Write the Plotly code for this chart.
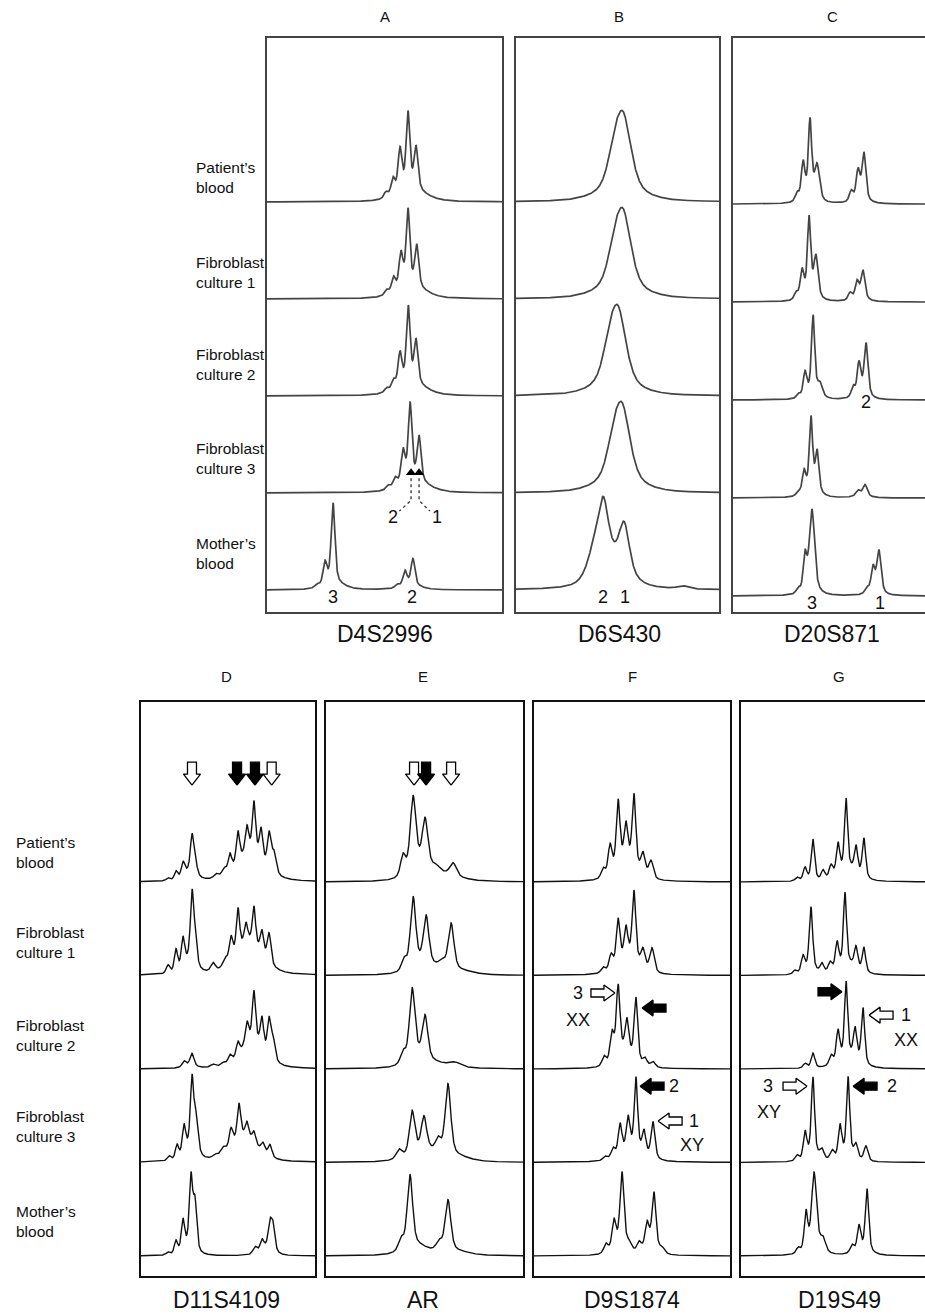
import numpy as np
import plotly.graph_objects as go

FIG_W, FIG_H = 925, 1316

# ---------------- data ----------------
ROW_LABELS = ["Patient’s<br>blood", "Fibroblast<br>culture 1", "Fibroblast<br>culture 2",
              "Fibroblast<br>culture 3", "Mother’s<br>blood"]
PANELS = ["A", "B", "C", "D", "E", "F", "G"]
MARKERS = ["D4S2996", "D6S430", "D20S871", "D11S4109", "AR", "D9S1874", "D19S49"]

# peaks per lane: (position on 0-100 migration scale, height in % of lane, half width)
A_PEAKS = [
    [(50.6, 6, 1.0), (53.6, 17, 1.0), (56.6, 44, 1.0), (60.0, 78, 0.95), (63.4, 43, 1.0), (61.5, 13, 7)],
    [(50.9, 5, 1.0), (53.8, 15, 1.0), (57.0, 36, 1.0), (60.0, 78, 0.95), (63.7, 42, 1.0), (61.5, 13, 7)],
    [(50.9, 4, 1.0), (53.8, 9, 1.0), (56.6, 34, 1.0), (60.1, 78, 0.95), (63.4, 44, 1.0), (61.5, 13, 7)],
    [(51.5, 4, 1.0), (54.5, 9, 1.0), (57.9, 33, 1.0), (60.9, 78, 0.95), (64.7, 45, 1.0), (62.5, 13, 7)],
    [(21.3, 3, 1.0), (24.7, 23, 1.0), (28.1, 82, 0.95), (28.5, 7, 5),
     (55.3, 3, 1.0), (58.7, 15, 1.0), (62.1, 27, 1.0), (61.0, 5, 5)],
]
B_PEAKS = [
    [(53.0, 68, 4.5), (48.5, 30, 4), (51.0, 12, 12)],
    [(53.0, 68, 4.5), (48.5, 30, 4), (51.0, 12, 12)],
    [(50.5, 68, 4.5), (46.0, 30, 4), (48.5, 12, 12)],
    [(52.5, 68, 4.5), (48.0, 30, 4), (50.5, 12, 12)],
    [(43.0, 60, 3), (53.3, 48, 3), (38.5, 25, 4), (47.0, 28, 9), (82.0, 3, 3)],
]
C_PEAKS = [
    [(33.3, 8, 1.1), (36.5, 36, 1.1), (40.1, 75, 1.0), (43.8, 34, 1.5), (40.0, 10, 4),
     (61.5, 10, 1.1), (65.1, 28, 1.1), (68.2, 47, 1.2), (66.0, 6, 4)],
    [(32.8, 7, 1.1), (35.9, 27, 1.1), (39.6, 76, 1.0), (43.2, 40, 1.3), (40.0, 10, 4),
     (60.9, 7, 1.1), (64.6, 16, 1.1), (67.7, 28, 1.2), (65.5, 5, 4)],
    [(34.0, 4, 1.1), (37.5, 24, 1.1), (41.7, 78, 1.0), (45.3, 12, 1.5), (41.5, 8, 4),
     (62.5, 10, 1.1), (65.6, 32, 1.1), (69.3, 53, 1.2), (67.0, 6, 4)],
    [(33.9, 4, 1.1), (37.0, 22, 1.1), (40.6, 72, 1.0), (43.8, 40, 1.1), (41.0, 10, 4),
     (65.1, 5, 1.2), (68.8, 11, 1.3), (67.0, 3, 4)],
    [(33.9, 5, 1.1), (37.5, 36, 1.1), (41.1, 82, 1.6), (41.0, 6, 4),
     (69.8, 5, 1.2), (72.9, 24, 1.1), (76.0, 42, 1.3), (74.0, 5, 4)],
]
D_PEAKS = [
    [(15.5, 3, 1.2), (20.1, 9, 1.15), (24.1, 15, 1.15), (29.3, 36, 1.1), (31.0, 15, 1.3), (28.0, 10, 4),
     (43.1, 4.5, 1.5), (47.7, 7, 1.5), (51.1, 18, 1.2), (55.7, 33, 1.15), (60.9, 27, 1.15),
     (64.9, 53, 1.1), (69.0, 32, 1.15), (73.6, 37, 1.2), (76.4, 22, 1.5), (63.0, 32, 9)],
    [(15.5, 9, 1.2), (20.1, 24, 1.15), (24.1, 31, 1.15), (29.3, 68, 1.1), (31.0, 27, 1.3), (28.0, 14, 4),
     (41.4, 9, 1.5), (48.3, 8, 1.5), (51.7, 25, 1.2), (55.7, 46, 1.15), (60.3, 20, 1.15),
     (64.9, 40, 1.1), (69.5, 25, 1.2), (73.6, 32, 1.3), (62.0, 35, 9)],
    [(24.7, 6, 1.2), (29.3, 13, 1.3), (28.0, 3, 4), (41.4, 3, 1.5), (47.1, 3, 1.5),
     (51.1, 8, 1.2), (55.7, 14, 1.15), (60.9, 22, 1.15), (64.9, 52, 1.1), (69.5, 32, 1.15),
     (73.6, 38, 1.2), (75.9, 22, 1.4), (64.0, 30, 8)],
    [(16.1, 5, 1.2), (20.7, 15, 1.15), (24.7, 30, 1.15), (29.3, 71, 1.1), (31.6, 36, 1.4), (28.5, 14, 4),
     (42.5, 3, 1.5), (47.1, 6, 1.5), (51.7, 18, 1.2), (56.3, 36, 1.15), (60.9, 15, 1.15),
     (64.9, 12, 1.2), (70.1, 10, 1.3), (74.1, 13, 1.3), (59.0, 28, 9)],
    [(15.5, 3, 1.2), (20.1, 14, 1.15), (24.1, 33, 1.15), (28.7, 72, 1.1), (31.0, 50, 1.2), (28.0, 10, 3.5),
     (65.5, 8, 1.5), (69.5, 12, 1.3), (74.1, 26, 1.2), (75.9, 25, 1.2), (73.0, 8, 4)],
]
E_PEAKS = [
    [(48.0, 14, 6), (39.1, 22, 1.5), (44.2, 78, 1.7), (50.3, 50, 1.7), (56.0, 6, 2.5), (64.5, 14, 2.0), (60.0, 6, 10)],
    [(50.0, 12, 7), (39.6, 12, 1.5), (44.2, 75, 1.6), (50.8, 50, 1.6), (58.9, 8, 2.0), (63.5, 50, 1.7), (68.0, 4, 8)],
    [(47.0, 12, 6), (39.1, 12, 1.5), (43.7, 75, 1.6), (50.3, 44, 1.6), (65.5, 4, 3), (58.0, 4, 10)],
    [(50.0, 12, 8), (37.1, 10, 1.8), (43.7, 46, 1.6), (49.7, 35, 1.6), (56.9, 14, 1.6), (61.9, 76, 1.7), (66.0, 5, 8)],
    [(46.0, 10, 7), (38.1, 12, 1.6), (42.6, 78, 1.6), (57.4, 10, 1.8), (61.9, 55, 1.7), (66.0, 4, 8)],
]
F_PEAKS = [
    [(35.2, 10, 1.2), (38.8, 31, 1.2), (42.9, 70, 1.1), (46.9, 38, 1.1), (51.0, 76, 1.1),
     (55.6, 23, 1.3), (59.7, 19, 1.4), (47.0, 22, 6)],
    [(35.2, 6, 1.2), (39.3, 16, 1.2), (42.9, 48, 1.1), (46.9, 32, 1.1), (51.0, 74, 1.1),
     (55.6, 20, 1.3), (60.2, 26, 1.4), (48.0, 18, 6)],
    [(35.7, 10, 1.2), (39.8, 30, 1.2), (42.9, 74, 1.1), (47.4, 34, 1.1), (52.0, 68, 1.1),
     (56.6, 8, 1.3), (60.7, 6, 1.4), (46.0, 18, 5)],
    [(36.2, 4, 1.2), (40.3, 10, 1.2), (43.9, 32, 1.1), (48.0, 34, 1.1), (52.0, 76, 1.0),
     (56.1, 24, 1.1), (60.7, 39, 1.2), (50.0, 14, 7)],
    [(36.7, 10, 1.3), (40.8, 30, 1.2), (44.9, 78, 1.2), (48.5, 8, 1.5), (44.0, 10, 4),
     (53.6, 10, 1.3), (57.7, 26, 1.2), (61.2, 60, 1.2), (65.3, 6, 1.5), (59.0, 8, 4)],
]
G_PEAKS = [
    [(30.4, 4, 1.2), (34.8, 14, 1.2), (39.1, 44, 1.1), (44.6, 10, 1.2), (48.9, 13, 1.2), (52.7, 32, 1.1),
     (57.1, 74, 1.0), (62.5, 28, 1.1), (66.8, 42, 1.1), (58.0, 14, 6)],
    [(29.3, 4, 1.2), (33.7, 18, 1.2), (38.0, 66, 1.1), (38.0, 6, 3), (44.0, 10, 1.2), (48.4, 10, 1.2),
     (52.2, 28, 1.1), (56.5, 76, 1.0), (62.5, 22, 1.1), (66.8, 26, 1.1), (58.0, 12, 6)],
    [(34.8, 5, 1.2), (39.1, 16, 1.2), (48.9, 10, 1.2), (52.7, 32, 1.1), (57.1, 78, 1.0),
     (62.0, 32, 1.1), (66.3, 60, 1.1), (58.0, 14, 6)],
    [(30.4, 6, 1.2), (34.8, 28, 1.1), (39.1, 80, 1.0), (39.0, 10, 3.5), (44.0, 10, 1.3), (49.5, 10, 1.3),
     (53.8, 34, 1.1), (58.2, 80, 1.0), (58.0, 10, 4), (62.5, 14, 1.2), (67.9, 16, 1.3)],
    [(31.0, 6, 1.2), (35.3, 40, 1.1), (39.7, 74, 1.5), (44.6, 12, 1.6), (40.0, 14, 4),
     (60.3, 8, 1.2), (64.1, 26, 1.1), (68.5, 66, 1.1), (66.0, 6, 5)],
]
PANEL_PEAKS = [A_PEAKS, B_PEAKS, C_PEAKS, D_PEAKS, E_PEAKS, F_PEAKS, G_PEAKS]

# allele labels inside panels: (panel, position, level, text)
ALLELE_LABELS = [
    ("A", 53.6, 98, "2"), ("A", 72.3, 98, "1"), ("A", 28.1, 15.5, "3"), ("A", 61.7, 15.5, "2"),
    ("B", 42.9, 15.5, "2"), ("B", 53.7, 15.5, "1"),
    ("C", 69.3, 216.5, "2"), ("C", 41.1, 9.3, "3"), ("C", 76.6, 9.3, "1"),
    ("F", 22.4, 302.7, "3"), ("F", 22.4, 273.8, "XX"), ("F", 71.4, 203, "2"),
    ("F", 81.6, 165.8, "1"), ("F", 80.6, 140, "XY"),
    ("G", 89.7, 279, "1"), ("G", 89.7, 252, "XX"), ("G", 14.7, 203, "3"),
    ("G", 15.2, 175, "XY"), ("G", 82.0, 203, "2"),
]
# block arrows: (panel, tip position, tip level, direction, filled)
ARROWS = [
    ("D", 29.3, 525, "down", False), ("D", 55.2, 525, "down", True),
    ("D", 65.5, 525, "down", True), ("D", 75.1, 525, "down", False),
    ("E", 44.7, 525, "down", False), ("E", 50.8, 525, "down", True), ("E", 63.5, 525, "down", False),
    ("F", 41.3, 302.7, "right", False), ("F", 55.1, 286.6, "left", True),
    ("F", 54.1, 203, "left", True), ("F", 63.3, 165.8, "left", False),
    ("G", 54.9, 304, "right", True), ("G", 69.6, 279, "left", False),
    ("G", 35.9, 203, "right", False), ("G", 60.9, 203, "left", True),
]
# allele markers in panel A, lane 4
A_TRIANGLES_X = [61.3, 64.7]
A_TRIANGLES_LEVEL = 143.5
A_DOTTED = [[(61.3, 138), (61.3, 115), (56.3, 104)], [(64.7, 138), (64.7, 115), (69.3, 104)]]

# ---------------- layout geometry (pixels) ----------------
BOX = {"A": (267, 502, 38, 612), "B": (516, 719, 38, 612), "C": (733, 925, 38, 612),
       "D": (141, 315, 702, 1276), "E": (326, 523, 702, 1276), "F": (534, 730, 702, 1276),
       "G": (741, 925, 702, 1276)}
TITLE_X = {"A": 385, "B": 619, "C": 832, "D": 226, "E": 423, "F": 632, "G": 839}
YSCALE = {"A": 0.97, "B": 0.97, "C": 0.97, "D": 0.935, "E": 0.935, "F": 0.935, "G": 0.935}
LANE = {"A": (22.7, 100), "B": (22.7, 100), "C": (16.5, 101), "D": (21.4, 100),
        "E": (21.4, 100), "F": (21.4, 100), "G": (21.4, 100)}
OPEN_RIGHT = {"C", "G"}
FONT = "Liberation Sans, Arial, Helvetica, sans-serif"


def profile(x, peaks):
    y = np.zeros_like(x)
    for c, h, w in peaks:
        d2 = ((x - c) / w) ** 2
        y += h * (0.5 * np.exp(-np.log(2) * d2) + 0.5 / (1 + d2))
    return y


def arrow_shape(direction, vertical):
    if vertical:
        L, Hl, Hw, Sw = 23, 11, 8.5, 4.5
    else:
        L, Hl, Hw, Sw = 24, 11, 8, 4
    tmpl = [(0, 0), (-Hl, Hw), (-Hl, Sw), (-L, Sw), (-L, -Sw), (-Hl, -Sw), (-Hl, -Hw), (0, 0)]
    d = {"right": (1, 0), "left": (-1, 0), "down": (0, -1), "up": (0, 1)}[direction]
    p = (-d[1], d[0])
    return [(a * d[0] + b * p[0], a * d[1] + b * p[1]) for a, b in tmpl]


def paper_text(xpx, ypx, text, size, xanchor="center"):
    fig.add_annotation(x=xpx / FIG_W, y=1 - ypx / FIG_H, xref="paper", yref="paper", text=text,
                       showarrow=False, xanchor=xanchor, yanchor="middle", align="left",
                       font=dict(family=FONT, size=size, color="#111"))


fig = go.Figure()
layout = {}
xs = np.linspace(0, 100, 1601)
for i, name in enumerate(PANELS):
    x0, x1, y0, y1 = BOX[name]
    top = name in ("A", "B", "C")
    col = "#444444" if top else "#111111"
    lw = 1.7 if top else 1.4
    sfx = "" if i == 0 else str(i + 1)
    xref, yref = "x" + sfx, "y" + sfx
    ys = YSCALE[name]
    yr = (y1 - y0) / ys
    layout["xaxis" + sfx] = dict(domain=[x0 / FIG_W, x1 / FIG_W], range=[0, 100], showgrid=False,
                                 zeroline=False, showticklabels=False, ticks="", showline=True,
                                 mirror=True, linecolor=col, linewidth=1.7, anchor=yref, fixedrange=True)
    layout["yaxis" + sfx] = dict(domain=[1 - y1 / FIG_H, 1 - y0 / FIG_H], range=[0, yr], showgrid=False,
                                 zeroline=False, showticklabels=False, ticks="", showline=True,
                                 mirror=(name not in OPEN_RIGHT), linecolor=col, linewidth=1.7,
                                 anchor=xref, fixedrange=True)
    b0, sp = LANE[name]
    for k, peaks in enumerate(PANEL_PEAKS[i]):
        base = b0 + sp * (4 - k)
        fig.add_trace(go.Scatter(x=xs, y=base + profile(xs, peaks), mode="lines",
                                 line=dict(color=col, width=lw), xaxis=xref, yaxis=yref,
                                 hoverinfo="skip", showlegend=False))
    ux = 100.0 / (x1 - x0)
    uy = 1.0 / ys
    for pn, ax_, ay_, dr, filled in ARROWS:
        if pn != name:
            continue
        pts = arrow_shape(dr, dr in ("up", "down"))
        fig.add_trace(go.Scatter(x=[ax_ + px * ux for px, py in pts], y=[ay_ + py * uy for px, py in pts],
                                 mode="lines", fill="toself", fillcolor="black" if filled else "white",
                                 line=dict(color="black", width=1.3), xaxis=xref, yaxis=yref,
                                 hoverinfo="skip", showlegend=False))
    for pn, tx, ty, txt in ALLELE_LABELS:
        if pn != name:
            continue
        fig.add_annotation(x=tx, y=ty, xref=xref, yref=yref, text=txt, showarrow=False,
                           xanchor="center", yanchor="middle",
                           font=dict(family=FONT, size=18, color="#111"))
    if name == "A":
        for seg in A_DOTTED:
            fig.add_trace(go.Scatter(x=[p[0] for p in seg], y=[p[1] for p in seg], mode="lines",
                                     line=dict(color="#333", width=1.3, dash="dot"), xaxis=xref, yaxis=yref,
                                     hoverinfo="skip", showlegend=False))
        fig.add_trace(go.Scatter(x=A_TRIANGLES_X, y=[A_TRIANGLES_LEVEL] * len(A_TRIANGLES_X), mode="markers",
                                 marker=dict(symbol="triangle-up", size=9, color="black"),
                                 xaxis=xref, yaxis=yref, hoverinfo="skip", showlegend=False))
    cx = TITLE_X[name]
    paper_text(cx, 16 if top else 677, name, 15)
    paper_text(cx, 634 if top else 1300, MARKERS[i], 23)

# row labels
TOP_ROW_Y = [177.5, 272, 365, 458, 553]
BOT_ROW_Y = [852.5, 942.5, 1035.5, 1126.5, 1221]
for lab, ty, by in zip(ROW_LABELS, TOP_ROW_Y, BOT_ROW_Y):
    paper_text(194, ty, lab, 15.5, xanchor="left")
    paper_text(14, by, lab, 15.5, xanchor="left")

fig.update_layout(width=FIG_W, height=FIG_H, margin=dict(l=0, r=0, t=0, b=0),
                  paper_bgcolor="white", plot_bgcolor="white", **layout)
fig.write_html("out.html", config={"displayModeBar": False},
               post_script="document.body.style.margin='0px';document.body.style.overflow='hidden';")
